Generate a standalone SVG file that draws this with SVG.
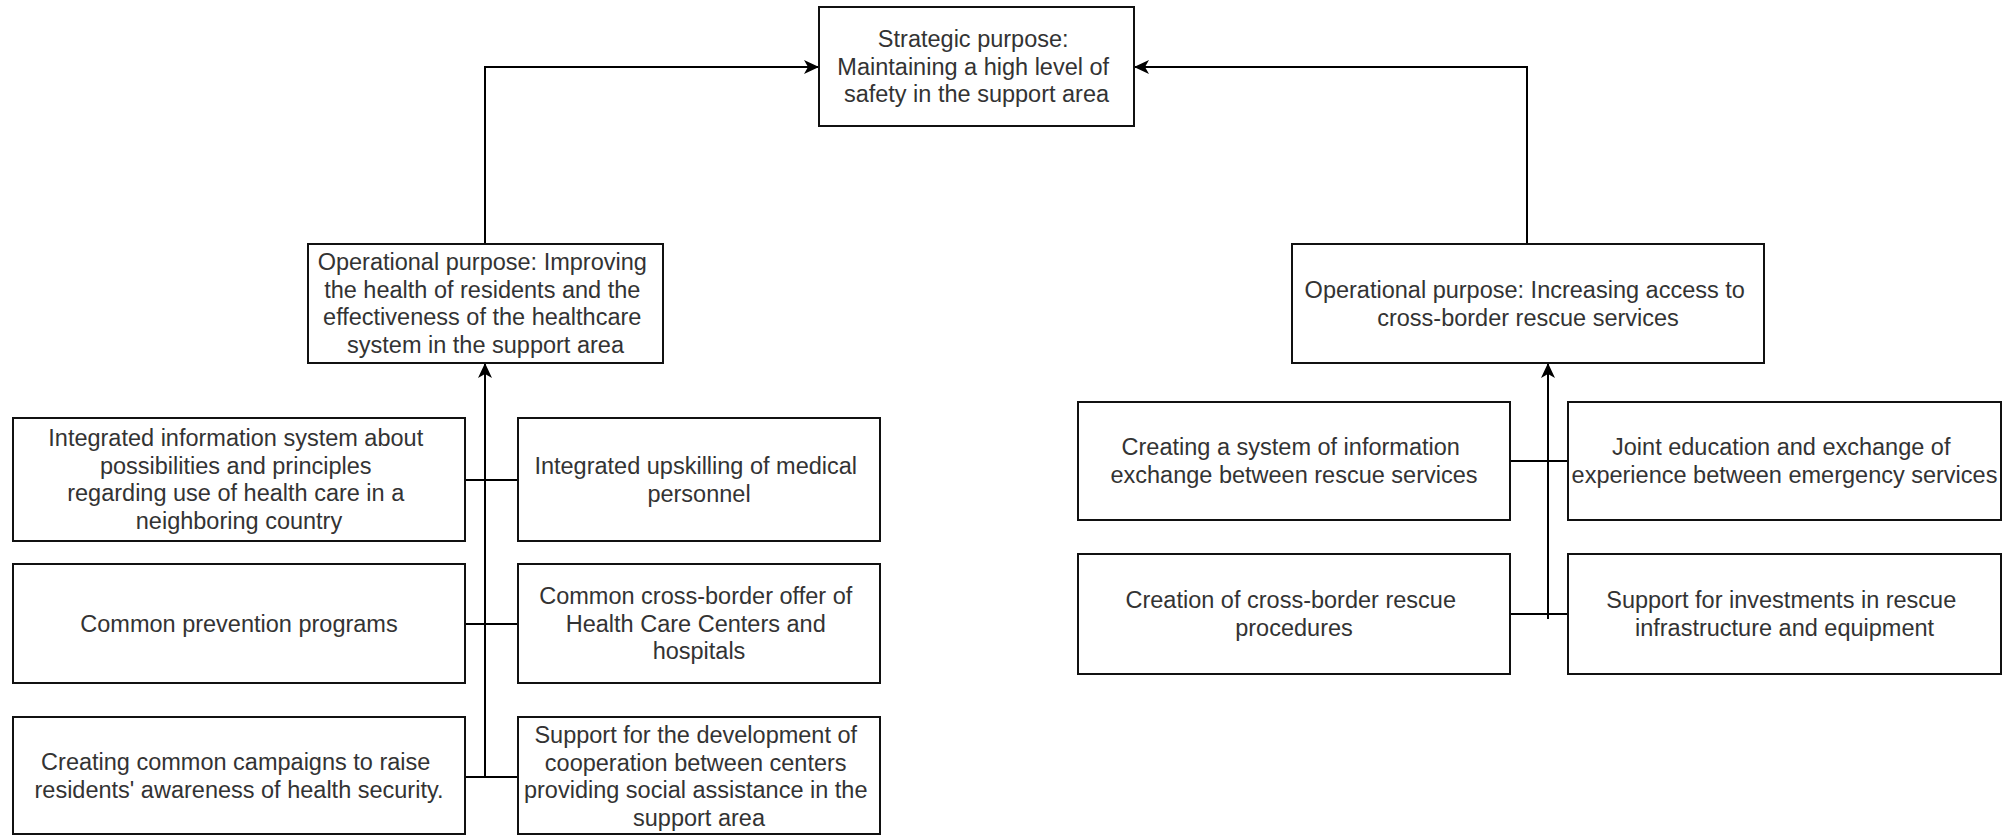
<svg xmlns="http://www.w3.org/2000/svg" width="2012" height="835" viewBox="0 0 2012 835">
  <defs>
    <style>
      .box { fill: #ffffff; stroke: #111111; stroke-width: 2; }
      .lbl { font-family: "Liberation Sans", Arial, sans-serif; font-size: 23.5px; fill: #333333; text-anchor: middle; }
      .wire { fill: none; stroke: #000000; stroke-width: 2; }
    </style>
    <marker id="arrow" markerUnits="userSpaceOnUse" markerWidth="16" markerHeight="14" refX="15" refY="7" orient="auto">
      <path d="M0,0 L15,7 L0,14 L4,7 z" fill="#000000"/>
    </marker>
  </defs>

  <rect width="2012" height="835" fill="#ffffff"/>

  <!-- connectors: goals feed upward into the strategic purpose -->
  <g id="connectors">
    <path class="wire" d="M485,244 V67 H819" marker-end="url(#arrow)"/>
    <path class="wire" d="M1527,244 V67 H1134" marker-end="url(#arrow)"/>
    <path class="wire" d="M485,777 V363" marker-end="url(#arrow)"/>
    <path class="wire" d="M465,480 H518"/>
    <path class="wire" d="M465,624 H518"/>
    <path class="wire" d="M465,777 H518"/>
    <path class="wire" d="M1548,619 V363" marker-end="url(#arrow)"/>
    <path class="wire" d="M1510,461 H1568"/>
    <path class="wire" d="M1510,614 H1568"/>
  </g>

  <!-- strategic purpose -->
  <g id="strategic">
    <rect class="box" x="819" y="7" width="315" height="119"/>
    <text class="lbl" y="47">
      <tspan x="976.5">Strategic purpose:</tspan>
      <tspan x="976.5" dy="27.5">Maintaining a high level of</tspan>
      <tspan x="976.5" dy="27.5">safety in the support area</tspan>
    </text>
  </g>

  <!-- operational purpose: health -->
  <g id="op-health">
    <rect class="box" x="308" y="244" width="355" height="119"/>
    <text class="lbl" y="270">
      <tspan x="485.5">Operational purpose: Improving</tspan>
      <tspan x="485.5" dy="27.5">the health of residents and the</tspan>
      <tspan x="485.5" dy="27.5">effectiveness of the healthcare</tspan>
      <tspan x="485.5" dy="27.5">system in the support area</tspan>
    </text>
  </g>

  <!-- operational purpose: rescue -->
  <g id="op-rescue">
    <rect class="box" x="1292" y="244" width="472" height="119"/>
    <text class="lbl" y="298">
      <tspan x="1528">Operational purpose: Increasing access to</tspan>
      <tspan x="1528" dy="27.5">cross-border rescue services</tspan>
    </text>
  </g>

  <!-- health actions -->
  <g id="info-system">
    <rect class="box" x="13" y="418" width="452" height="123"/>
    <text class="lbl" y="446">
      <tspan x="239">Integrated information system about</tspan>
      <tspan x="239" dy="27.5">possibilities and principles</tspan>
      <tspan x="239" dy="27.5">regarding use of health care in a</tspan>
      <tspan x="239" dy="27.5">neighboring country</tspan>
    </text>
  </g>

  <g id="upskilling">
    <rect class="box" x="518" y="418" width="362" height="123"/>
    <text class="lbl" y="474">
      <tspan x="699">Integrated upskilling of medical</tspan>
      <tspan x="699" dy="27.5">personnel</tspan>
    </text>
  </g>

  <g id="prevention">
    <rect class="box" x="13" y="564" width="452" height="119"/>
    <text class="lbl" x="239" y="632">Common prevention programs</text>
  </g>

  <g id="care-offer">
    <rect class="box" x="518" y="564" width="362" height="119"/>
    <text class="lbl" y="604">
      <tspan x="699">Common cross-border offer of</tspan>
      <tspan x="699" dy="27.5">Health Care Centers and</tspan>
      <tspan x="699" dy="27.5">hospitals</tspan>
    </text>
  </g>

  <g id="campaigns">
    <rect class="box" x="13" y="717" width="452" height="117"/>
    <text class="lbl" y="770">
      <tspan x="239">Creating common campaigns to raise</tspan>
      <tspan x="239" dy="27.5">residents' awareness of health security.</tspan>
    </text>
  </g>

  <g id="social-centers">
    <rect class="box" x="518" y="717" width="362" height="117"/>
    <text class="lbl" y="743">
      <tspan x="699">Support for the development of</tspan>
      <tspan x="699" dy="27.5">cooperation between centers</tspan>
      <tspan x="699" dy="27.5">providing social assistance in the</tspan>
      <tspan x="699" dy="27.5">support area</tspan>
    </text>
  </g>

  <!-- rescue actions -->
  <g id="info-exchange">
    <rect class="box" x="1078" y="402" width="432" height="118"/>
    <text class="lbl" y="455">
      <tspan x="1294">Creating a system of information</tspan>
      <tspan x="1294" dy="27.5">exchange between rescue services</tspan>
    </text>
  </g>

  <g id="joint-education">
    <rect class="box" x="1568" y="402" width="433" height="118"/>
    <text class="lbl" y="455">
      <tspan x="1784.5">Joint education and exchange of</tspan>
      <tspan x="1784.5" dy="27.5">experience between emergency services</tspan>
    </text>
  </g>

  <g id="rescue-procedures">
    <rect class="box" x="1078" y="554" width="432" height="120"/>
    <text class="lbl" y="608">
      <tspan x="1294">Creation of cross-border rescue</tspan>
      <tspan x="1294" dy="27.5">procedures</tspan>
    </text>
  </g>

  <g id="rescue-investment">
    <rect class="box" x="1568" y="554" width="433" height="120"/>
    <text class="lbl" y="608">
      <tspan x="1784.5">Support for investments in rescue</tspan>
      <tspan x="1784.5" dy="27.5">infrastructure and equipment</tspan>
    </text>
  </g>
</svg>
